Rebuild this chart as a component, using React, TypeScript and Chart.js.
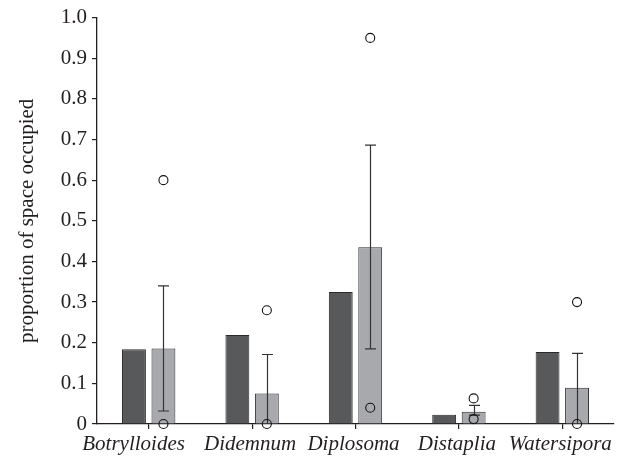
import React, { useEffect, useRef } from "react";
import { Chart, registerables } from "chart.js";

Chart.register(...registerables);

const categories = ["Botrylloides", "Didemnum", "Diplosoma", "Distaplia", "Watersipora"];
const darkValues = [0.184, 0.219, 0.325, 0.023, 0.177];
const lightValues = [0.186, 0.075, 0.435, 0.030, 0.089];
const errHigh = [0.34, 0.171, 0.686, 0.046, 0.174];
const errLow = [0.032, 0.0, 0.185, 0.022, 0.0];
const circleHigh = [0.6, 0.28, 0.95, 0.063, 0.3];
const circleLow = [0.0, 0.0, 0.04, 0.012, 0.0];
const yTicks = [0, 0.1, 0.2, 0.3, 0.4, 0.5, 0.6, 0.7, 0.8, 0.9, 1.0];

const FONT = "'Liberation Serif', 'Times New Roman', serif";
const INK = "#231f20";

const errorPlugin = {
  id: "errorAndCircles",
  afterDatasetsDraw(chart: any) {
    const meta = chart.getDatasetMeta(1);
    const y = chart.scales.y;
    const ctx = chart.ctx;
    ctx.save();
    ctx.strokeStyle = "#333333";
    ctx.lineWidth = 1.2;
    meta.data.forEach((bar: any, i: number) => {
      const x = Math.round(bar.x) + 0.5;
      const yh = y.getPixelForValue(errHigh[i]);
      const yl = y.getPixelForValue(Math.max(errLow[i], 0));
      const cap = 5.5;
      ctx.beginPath();
      ctx.moveTo(x, yh);
      ctx.lineTo(x, yl);
      ctx.moveTo(x - cap, yh);
      ctx.lineTo(x + cap, yh);
      if (errLow[i] > 0) {
        ctx.moveTo(x - cap, yl);
        ctx.lineTo(x + cap, yl);
      }
      ctx.stroke();
    });
    ctx.strokeStyle = "#111111";
    ctx.lineWidth = 1.1;
    meta.data.forEach((bar: any, i: number) => {
      [circleHigh[i], circleLow[i]].forEach((v) => {
        ctx.beginPath();
        ctx.arc(bar.x, y.getPixelForValue(v), 4.5, 0, Math.PI * 2);
        ctx.stroke();
      });
    });
    ctx.restore();
  },
};

export default function App() {
  const ref = useRef<HTMLCanvasElement>(null);
  useEffect(() => {
    if (!ref.current) return;
    const chart = new Chart(ref.current, {
      type: "bar",
      data: {
        labels: categories,
        datasets: [
          {
            data: darkValues,
            backgroundColor: "#58595b",
            borderColor: "#2a2a2a",
            borderWidth: 1,
            categoryPercentage: 0.57,
            barPercentage: 0.81,
          },
          {
            data: lightValues,
            backgroundColor: "#a7a9ac",
            borderColor: "#2a2a2a",
            borderWidth: 1,
            categoryPercentage: 0.57,
            barPercentage: 0.81,
          },
        ],
      },
      options: {
        animation: false,
        responsive: false,
        maintainAspectRatio: false,
        layout: { padding: { top: 17, right: 16, left: 0, bottom: 0 } },
        plugins: { legend: { display: false }, tooltip: { enabled: false } },
        scales: {
          x: {
            grid: {
              offset: false,
              drawOnChartArea: false,
              drawTicks: true,
              tickLength: 5,
              color: INK,
              lineWidth: 1.2,
            },
            border: { display: true, color: INK, width: 1.3 },
            ticks: {
              color: INK,
              padding: 3,
              maxRotation: 0,
              autoSkip: false,
              labelOffset: -2,
              font: { family: FONT, size: 21, style: "italic" },
              // the first label sits left of its tick in the reference
              callback: (_v: any, i: number) =>
                i === 0 ? categories[i] + "\u0020\u0020\u0020\u0020\u0020" : categories[i],
            },
            afterFit(scale: any) {
              scale.height = 35;
            },
          },
          y: {
            min: 0,
            max: 1.0,
            afterBuildTicks(scale: any) {
              scale.ticks = yTicks.map((v) => ({ value: v }));
            },
            grid: {
              drawOnChartArea: false,
              drawTicks: true,
              tickLength: 5,
              color: INK,
              lineWidth: 1.2,
            },
            border: { display: true, color: INK, width: 1.3 },
            ticks: {
              color: INK,
              padding: 5,
              font: { family: FONT, size: 21 },
              callback: (v: any) => (Number(v) === 0 ? "0" : Number(v).toFixed(1)),
            },
            title: {
              display: true,
              text: "proportion of space occupied",
              color: INK,
              padding: { top: 15, bottom: 0 },
              font: { family: FONT, size: 21 },
            },
            afterFit(scale: any) {
              scale.width = 97;
            },
          },
        },
      },
      plugins: [errorPlugin],
    });
    return () => chart.destroy();
  }, []);
  return (
    <div style={{ position: "absolute", left: 0, top: 0, width: 630, height: 459, background: "#fff" }}>
      <canvas ref={ref} width={630} height={459} />
    </div>
  );
}
